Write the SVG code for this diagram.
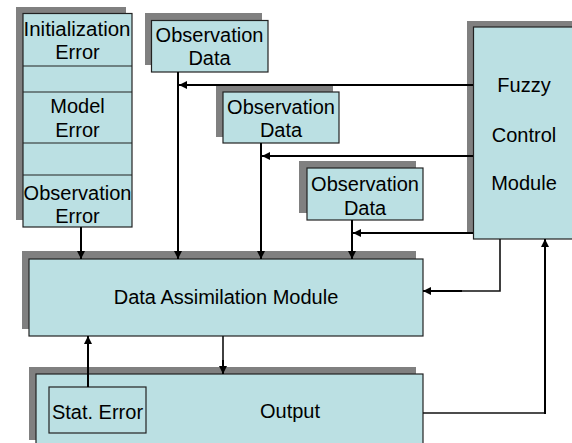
<svg xmlns="http://www.w3.org/2000/svg" width="572" height="443" viewBox="0 0 572 443">
  <style>
    .shadow { fill: #808080; }
    .box { fill: #BBE0E3; stroke: #222; stroke-width: 1.2; }
    .div { stroke: #222; stroke-width: 1.2; fill: none; }
    text { font-family: "Liberation Sans", Arial, sans-serif; font-size: 20px; fill: #000; text-anchor: middle; }
    .wire { fill: none; stroke: #000; stroke-width: 2; }
    .thin { fill: none; stroke: #111; stroke-width: 1.6; }
  </style>
  <defs>
    <marker id="arrow" viewBox="0 0 10 10" refX="10" refY="5" markerWidth="8" markerHeight="8" markerUnits="userSpaceOnUse" orient="auto">
      <path d="M0,0 L10,5 L0,10 z" fill="#000"/>
    </marker>
  </defs>

  <rect width="572" height="443" fill="#fff"/>

  <!-- error sources column -->
  <g id="error-sources">
    <rect class="shadow" x="16" y="7" width="110" height="213"/>
    <rect class="box" x="23" y="13.5" width="109" height="213.5"/>
    <line class="div" x1="23" y1="66" x2="132" y2="66"/>
    <line class="div" x1="23" y1="92" x2="132" y2="92"/>
    <line class="div" x1="23" y1="143" x2="132" y2="143"/>
    <line class="div" x1="23" y1="175" x2="132" y2="175"/>
    <text x="77" y="36" textLength="107" lengthAdjust="spacingAndGlyphs">Initialization</text>
    <text x="77.5" y="59">Error</text>
    <text x="77.5" y="112.5">Model</text>
    <text x="77.5" y="136.5">Error</text>
    <text x="77.5" y="200">Observation</text>
    <text x="77.5" y="222.5">Error</text>
  </g>

  <g id="obs-data-1">
    <rect class="shadow" x="145" y="13" width="117" height="52"/>
    <rect class="box" x="151.5" y="20.5" width="116.5" height="51.5"/>
    <text x="209.5" y="41.5">Observation</text>
    <text x="209.5" y="65">Data</text>
  </g>

  <g id="obs-data-2">
    <rect class="shadow" x="216" y="86" width="117" height="51"/>
    <rect class="box" x="223" y="92" width="116" height="51"/>
    <text x="281" y="113.5">Observation</text>
    <text x="281" y="136.5">Data</text>
  </g>

  <g id="obs-data-3">
    <rect class="shadow" x="299" y="161" width="117" height="52"/>
    <rect class="box" x="307" y="168" width="116" height="52"/>
    <text x="365" y="191">Observation</text>
    <text x="365" y="214.5">Data</text>
  </g>

  <g id="fuzzy-control">
    <rect class="shadow" x="467" y="21" width="110" height="212"/>
    <rect class="box" x="473.5" y="27" width="110" height="212"/>
    <text x="524" y="91.5">Fuzzy</text>
    <text x="524" y="141.5">Control</text>
    <text x="524" y="189.5">Module</text>
  </g>

  <g id="data-assimilation">
    <rect class="shadow" x="22" y="251" width="394" height="78"/>
    <rect class="box" x="29" y="259" width="394" height="77"/>
    <text x="226" y="304">Data Assimilation Module</text>
  </g>

  <g id="output">
    <rect class="shadow" x="29" y="367" width="387" height="73"/>
    <rect class="box" x="36" y="374" width="387" height="80"/>
    <text x="290" y="418">Output</text>
  </g>

  <g id="stat-error">
    <rect class="box" x="49" y="387" width="97" height="46"/>
    <text x="97.5" y="418.5">Stat. Error</text>
  </g>

  <g id="connectors">
    <!-- inputs into the assimilation module -->
    <line class="wire" x1="81" y1="227" x2="81" y2="259" marker-end="url(#arrow)"/>
    <line class="wire" x1="178" y1="72" x2="178" y2="259" marker-end="url(#arrow)"/>
    <line class="wire" x1="261" y1="143" x2="261" y2="259" marker-end="url(#arrow)"/>
    <line class="wire" x1="352" y1="220" x2="352" y2="259" marker-end="url(#arrow)"/>
    <!-- fuzzy control to observation lines -->
    <line class="wire" x1="473" y1="85" x2="179" y2="85" marker-end="url(#arrow)"/>
    <line class="wire" x1="473" y1="156" x2="262" y2="156" marker-end="url(#arrow)"/>
    <line class="wire" x1="473" y1="233" x2="353" y2="233" marker-end="url(#arrow)"/>
    <!-- fuzzy control to assimilation module -->
    <polyline class="thin" points="500,239 500,291 462,291"/>
    <line class="wire" x1="462" y1="291" x2="423" y2="291" marker-end="url(#arrow)"/>
    <!-- assimilation to output -->
    <line class="thin" x1="223" y1="336" x2="223" y2="366"/>
    <line class="wire" x1="223" y1="360" x2="223" y2="374" marker-end="url(#arrow)"/>
    <!-- statistical error feedback -->
    <line class="wire" x1="88" y1="387" x2="88" y2="336" marker-end="url(#arrow)"/>
    <!-- output feedback to fuzzy control -->
    <polyline class="thin" points="423,413 545,413"/>
    <line class="wire" x1="545" y1="414" x2="545" y2="239" marker-end="url(#arrow)"/>
  </g>
</svg>
